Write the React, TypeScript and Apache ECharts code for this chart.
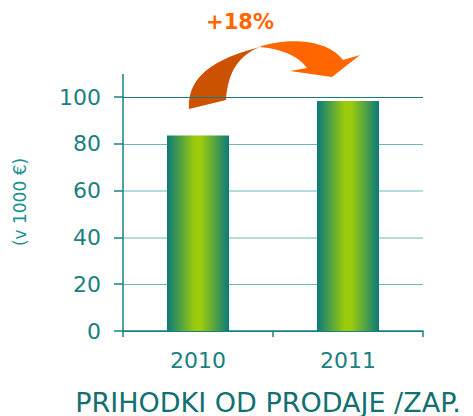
import React, { useEffect, useRef } from "react";
import * as echarts from "echarts";

const categories = ["2010", "2011"];
const values = [83.5, 98.3];
const yTicks = [0, 20, 40, 60, 80, 100];
const changeLabel = "+18%";
const xTitle = "PRIHODKI OD PRODAJE /ZAP.";
const yTitle = "(v 1000 €)";

const DARK_D = "M189,109 C188,85 200,62 260,47 C240,55 228,70 226,100 Z";
const BRIGHT_D = "M259,47 C280,39 325,36 343,60 L360,55 L332,77 L290,71 L307,68 C300,58 285,49 259,47 Z";

let registered = false;
function registerShapes() {
  if (registered) return;
  echarts.graphic.registerShape("arrowDark", echarts.graphic.extendPath(DARK_D, {}) as any);
  echarts.graphic.registerShape("arrowBright", echarts.graphic.extendPath(BRIGHT_D, {}) as any);
  registered = true;
}

export default function App() {
  const ref = useRef<HTMLDivElement>(null);
  useEffect(() => {
    document.body.style.margin = "0";
    registerShapes();
    const chart = echarts.init(ref.current!, undefined, { renderer: "svg" });
    const teal = "#1a8080";
    const font = "'DejaVu Sans', Verdana, sans-serif";
    chart.setOption({
      animation: false,
      grid: { left: 123, right: 50, top: 97, bottom: 85, containLabel: false },
      xAxis: {
        type: "category",
        data: categories,
        boundaryGap: true,
        axisLine: { lineStyle: { color: teal, width: 1.5 } },
        axisTick: { show: true, length: 6, lineStyle: { color: teal, width: 1.5 } },
        axisLabel: { color: teal, fontSize: 22, fontFamily: font, margin: 18 },
      },
      yAxis: {
        type: "value",
        min: yTicks[0],
        max: yTicks[yTicks.length - 1],
        interval: 20,
        axisLine: { show: true, lineStyle: { color: teal, width: 1.5 } },
        axisTick: { show: true, length: 9, lineStyle: { color: teal, width: 1.5 } },
        axisLabel: { color: teal, fontSize: 22, fontFamily: font, margin: 22 },
        splitLine: {
          show: true,
          lineStyle: {
            color: ["#1a8080", "#6cb9b9", "#6cb9b9", "#6cb9b9", "#6cb9b9", "#1a7a7a"],
            width: [1.5, 2, 2, 2, 2, 1.5] as any,
          },
        },
      },
      series: [
        {
          type: "bar",
          data: values,
          barWidth: 62,
          itemStyle: {
            color: new echarts.graphic.LinearGradient(0, 0, 1, 0, [
              { offset: 0, color: "#0b7a7a" },
              { offset: 0.45, color: "#9ccb0b" },
              { offset: 0.55, color: "#9ccb0b" },
              { offset: 1, color: "#0b7a7a" },
            ]),
          },
        },
      ],
      graphic: [
        { type: "line", shape: { x1: 123, y1: 74, x2: 123, y2: 97 }, style: { stroke: teal, lineWidth: 1.5 } },
        { type: "arrowBright", x: 0, y: 0, style: { fill: "#ff6600" } },
        { type: "arrowDark", x: 0, y: 0, style: { fill: "#cc5200" } },
        {
          type: "text",
          x: 240,
          y: 22,
          style: {
            text: changeLabel,
            fill: "#ff6600",
            font: `bold 21px ${font}`,
            textAlign: "center",
            textVerticalAlign: "middle",
          },
        },
        {
          type: "text",
          x: 268,
          y: 402,
          style: {
            text: xTitle,
            fill: "#127070",
            font: `27px ${font}`,
            textAlign: "center",
            textVerticalAlign: "middle",
          },
        },
        {
          type: "text",
          x: 20,
          y: 202,
          rotation: Math.PI / 2,
          style: {
            text: yTitle,
            fill: "#1a9090",
            font: `17px ${font}`,
            textAlign: "center",
            textVerticalAlign: "middle",
          },
        },
      ],
    });
    return () => chart.dispose();
  }, []);
  return <div ref={ref} style={{ width: 473, height: 416 }} />;
}
